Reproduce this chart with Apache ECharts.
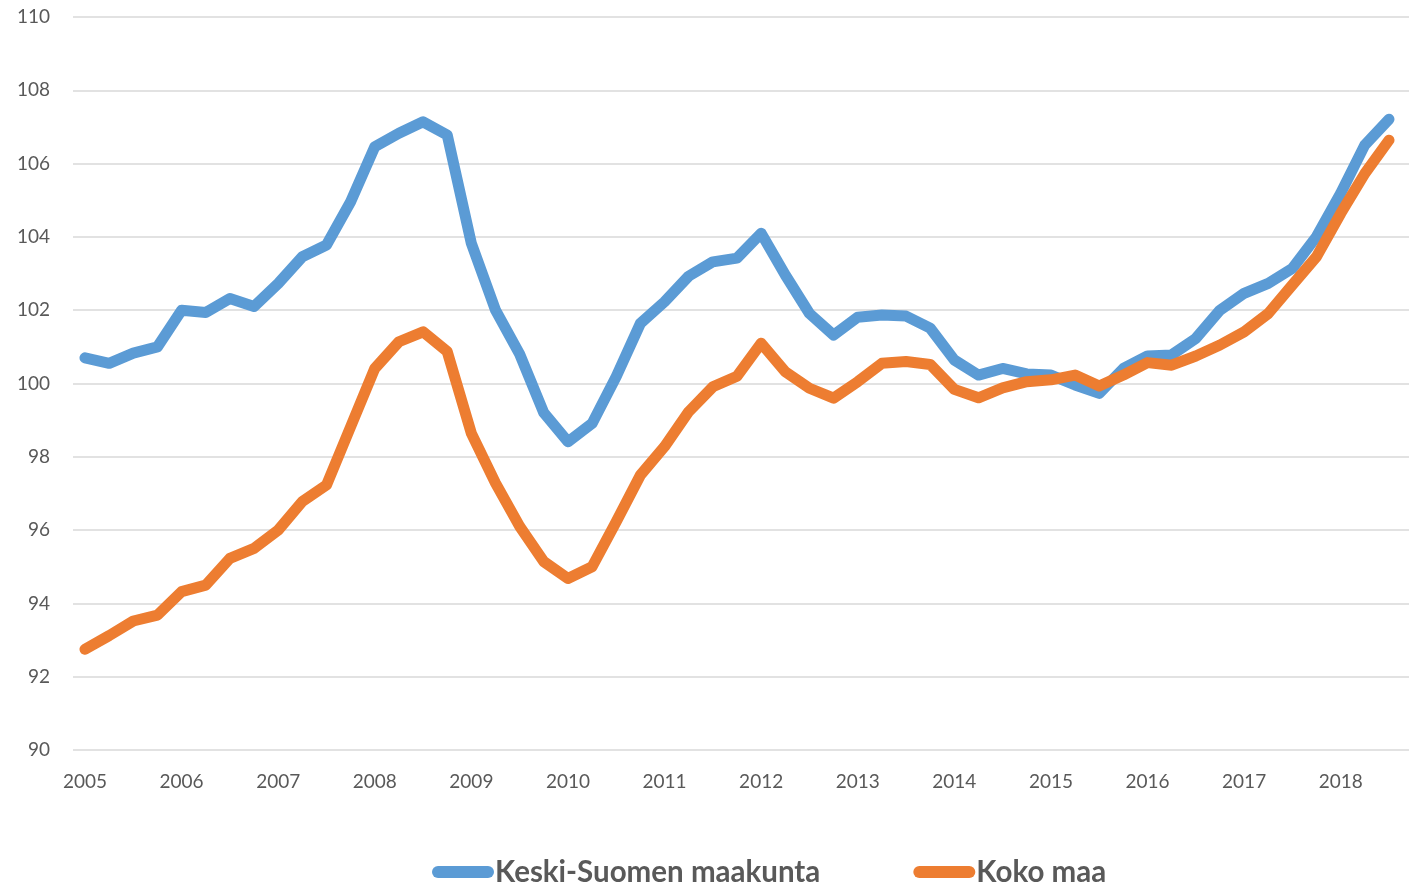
<!DOCTYPE html>
<html>
<head>
<meta charset="utf-8">
<title>Keski-Suomen maakunta vs Koko maa</title>
<script src="https://cdn.jsdelivr.net/npm/echarts@6/dist/echarts.min.js"></script>
<style>
  html, body { margin: 0; padding: 0; background: #fff; }
  #chart { width: 1409px; height: 885px; }
</style>
</head>
<body>
<div id="chart"></div>
<script>
// quarterly index, 2005 Q1 .. 2018 Q3
const years = [2005, 2006, 2007, 2008, 2009, 2010, 2011, 2012, 2013, 2014, 2015, 2016, 2017, 2018];
const quarters = ["Q1", "Q2", "Q3", "Q4"];
const lastYearQuarters = 3;

const keskiSuomi = [
  100.70, 100.55, 100.83, 101.00, 102.00, 101.94, 102.32, 102.10,
  102.73, 103.46, 103.78, 104.96, 106.46, 106.83, 107.14, 106.78,
  103.82, 102.00, 100.80, 99.20, 98.41, 98.91, 100.19, 101.64,
  102.23, 102.93, 103.32, 103.42, 104.10, 102.96, 101.91, 101.32,
  101.81, 101.87, 101.84, 101.51, 100.64, 100.23, 100.41, 100.26,
  100.23, 99.96, 99.73, 100.41, 100.75, 100.78, 101.23, 102.00,
  102.46, 102.73, 103.14, 104.01, 105.19, 106.51, 107.21
];
const kokoMaa = [
  92.75, 93.12, 93.52, 93.68, 94.32, 94.50, 95.23, 95.50,
  96.00, 96.78, 97.23, 98.82, 100.41, 101.14, 101.41, 100.87,
  98.64, 97.28, 96.10, 95.14, 94.68, 95.00, 96.23, 97.50,
  98.28, 99.23, 99.91, 100.20, 101.10, 100.32, 99.87, 99.60,
  100.05, 100.55, 100.60, 100.52, 99.84, 99.61, 99.88, 100.05,
  100.10, 100.23, 99.93, 100.23, 100.57, 100.50, 100.75, 101.05,
  101.41, 101.91, 102.69, 103.46, 104.64, 105.73, 106.64
];

const categories = [];
years.forEach((y, yi) => {
  const n = yi === years.length - 1 ? lastYearQuarters : 4;
  for (let q = 0; q < n; q++) categories.push(y + " " + quarters[q]);
});

const labelColor = "#595959";
const gridColor = "#D9D9D9";
const font = "Lato, 'Open Sans', sans-serif";

const chart = echarts.init(document.getElementById("chart"));
chart.setOption({
  animation: false,
  backgroundColor: "#fff",
  grid: [
    // gridlines + y labels
    { left: 73, right: 0, top: 17, bottom: 135 },
    // lines
    { left: 85, right: 20, top: 17, bottom: 135 },
  ],
  xAxis: [
    { type: "value", gridIndex: 0, show: false, min: 0, max: 1 },
    {
      type: "category",
      gridIndex: 1,
      data: categories,
      boundaryGap: false,
      axisLine: { show: false },
      axisTick: { show: false },
      axisLabel: {
        interval: 3,
        margin: 22,
        color: labelColor,
        fontFamily: font,
        fontSize: 19,
        formatter: (v) => v.split(" ")[0],
      },
    },
  ],
  yAxis: [
    {
      type: "value",
      gridIndex: 0,
      min: 90,
      max: 110,
      interval: 2,
      axisLine: { show: false },
      axisTick: { show: false },
      axisLabel: {
        margin: 23,
        color: labelColor,
        fontFamily: font,
        fontSize: 19,
      },
      splitLine: { lineStyle: { color: gridColor, width: 1.5 } },
    },
    { type: "value", gridIndex: 1, min: 90, max: 110, show: false },
  ],
  legend: {
    left: 432,
    top: 857,
    padding: 0,
    itemWidth: 62,
    itemHeight: 13,
    itemGap: 93,
    icon: "path://M6,0 L56,0 A6,6 0 0 1 56,12 L6,12 A6,6 0 0 1 6,0 Z",
    textStyle: {
      color: labelColor,
      fontFamily: font,
      fontWeight: "bold",
      fontSize: 29.5,
      padding: [0, 0, 0, -4],
    },
    data: ["Keski-Suomen maakunta", "Koko maa"],
  },
  series: [
    {
      name: "Keski-Suomen maakunta",
      type: "line",
      xAxisIndex: 1,
      yAxisIndex: 1,
      data: keskiSuomi,
      color: "#5B9BD5",
      showSymbol: false,
      lineStyle: { width: 11, cap: "round", join: "round" },
    },
    {
      name: "Koko maa",
      type: "line",
      xAxisIndex: 1,
      yAxisIndex: 1,
      data: kokoMaa,
      color: "#ED7D31",
      showSymbol: false,
      lineStyle: { width: 11, cap: "round", join: "round" },
    },
  ],
});
</script>
</body>
</html>
